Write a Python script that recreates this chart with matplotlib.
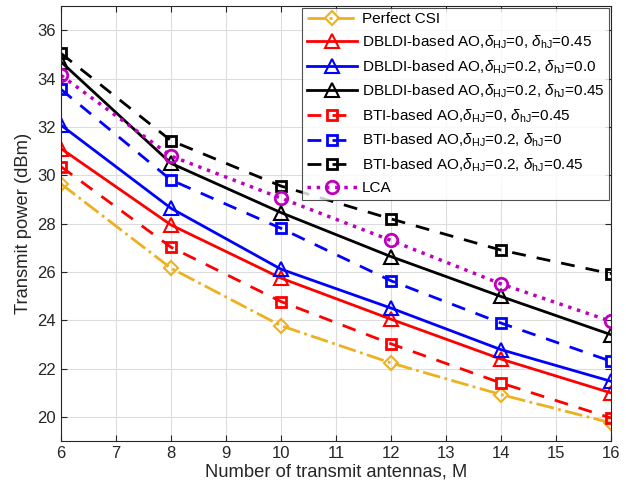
import matplotlib
matplotlib.use("Agg")
import matplotlib.pyplot as plt

plt.rcParams['font.family'] = ['Liberation Sans', 'DejaVu Sans']
plt.rcParams['mathtext.fontset'] = 'custom'
plt.rcParams['mathtext.rm'] = 'Liberation Sans'
plt.rcParams['mathtext.it'] = 'Liberation Sans:italic'

M = [6, 8, 10, 12, 14, 16]

perfect_csi = [29.64, 26.15, 23.77, 22.23, 20.92, 19.75]
dbldi_0_045 = [31.1, 27.94, 25.74, 24.04, 22.39, 20.99]
dbldi_02_0 = [32.07, 28.63, 26.11, 24.5, 22.78, 21.47]
dbldi_02_045 = [34.69, 30.49, 28.45, 26.63, 24.98, 23.4]
bti_0_045 = [30.35, 27.02, 24.77, 23.02, 21.4, 19.95]
bti_02_0 = [33.55, 29.8, 27.8, 25.63, 23.88, 22.3]
bti_02_045 = [35.04, 31.43, 29.55, 28.19, 26.9, 25.92]
lca = [34.13, 30.79, 29.05, 27.3, 25.5, 23.95]

yellow = '#EDB120'

fig = plt.figure(figsize=(6.26, 4.91), dpi=100)
ax = fig.add_axes([61/626, 1 - 441/491, 550/626, 435/491])

ax.plot(M, perfect_csi, '-.', color=yellow, lw=2, marker='D', ms=7, mfc='none', mew=1.5,
        label='Perfect CSI')
ax.plot(M, dbldi_0_045, '-', color='r', lw=2, marker='^', ms=10, mfc='none', mew=1.5,
        label=r'DBLDI-based AO,$\delta_{\rm HJ}$=0, $\delta_{\rm hJ}$=0.45')
ax.plot(M, dbldi_02_0, '-', color='b', lw=2, marker='^', ms=10, mfc='none', mew=1.5,
        label=r'DBLDI-based AO,$\delta_{\rm HJ}$=0.2, $\delta_{\rm hJ}$=0.0')
ax.plot(M, dbldi_02_045, '-', color='k', lw=2, marker='^', ms=10, mfc='none', mew=1.5,
        label=r'DBLDI-based AO,$\delta_{\rm HJ}$=0.2, $\delta_{\rm hJ}$=0.45')
ax.plot(M, bti_0_045, '--', color='r', lw=2, marker='s', ms=7, mfc='none', mew=2,
        dashes=(5, 4), label=r'BTI-based AO,$\delta_{\rm HJ}$=0, $\delta_{\rm hJ}$=0.45')
ax.plot(M, bti_02_0, '--', color='b', lw=2, marker='s', ms=7, mfc='none', mew=2,
        dashes=(5, 4), label=r'BTI-based AO,$\delta_{\rm HJ}$=0.2, $\delta_{\rm hJ}$=0')
ax.plot(M, bti_02_045, '--', color='k', lw=2, marker='s', ms=7, mfc='none', mew=2,
        dashes=(5, 4), label=r'BTI-based AO,$\delta_{\rm HJ}$=0.2, $\delta_{\rm hJ}$=0.45')
ax.plot(M, lca, ':', color='m', lw=2.5, marker='o', ms=9, mfc='none', mew=2,
        label='LCA')

ax.set_xlim(6, 16)
ax.set_ylim(19, 37)
ax.set_xticks(range(6, 17))
ax.set_yticks(range(20, 37, 2))
ax.grid(True, color='#dddddd', lw=0.8)
ax.tick_params(direction='in', labelsize=12, colors='#262626', top=True, right=True, length=4)
for s in ax.spines.values():
    s.set_color('#262626')
ax.set_xlabel('Number of transmit antennas, M', fontsize=13.2, color='#262626', labelpad=2)
ax.set_ylabel('Transmit power (dBm)', fontsize=13.2, color='#262626', labelpad=4)

leg = ax.legend(loc='upper right', fontsize=11, frameon=True, fancybox=False,
                edgecolor='#262626', borderaxespad=0.12, handlelength=3.3,
                labelspacing=0.47, borderpad=0.3, handletextpad=0.3)
leg.get_frame().set_linewidth(0.8)

fig.savefig('out.png', dpi=100)
